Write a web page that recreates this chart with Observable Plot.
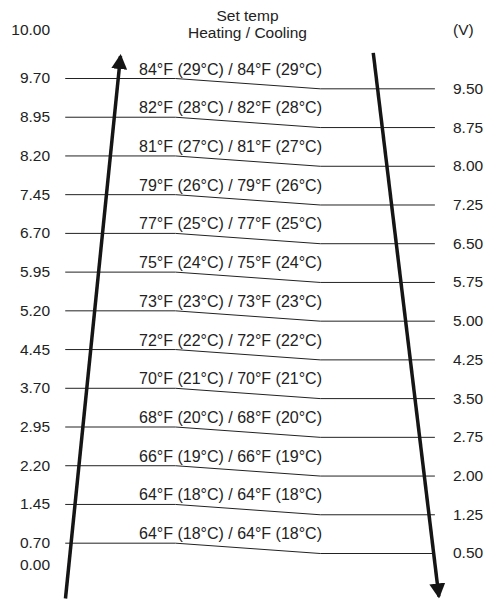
<!DOCTYPE html>
<html>
<head>
<meta charset="utf-8">
<script src="https://cdn.jsdelivr.net/npm/d3@7"></script>
<script src="https://cdn.jsdelivr.net/npm/@observablehq/plot@0.6"></script>
<style>
  html, body { margin: 0; padding: 0; background: #fff; }
  #chart svg { display: block; }
  #dbg { position: absolute; left: 150px; top: 300px; font: 10px monospace; color: red; width: 300px; }
</style>
</head>
<body>
<div id="chart"></div>
<div id="dbg"></div>
<script>
// ---- Data ----
const leftVolts  = [9.70, 8.95, 8.20, 7.45, 6.70, 5.95, 5.20, 4.45, 3.70, 2.95, 2.20, 1.45, 0.70];
const rightVolts = [9.50, 8.75, 8.00, 7.25, 6.50, 5.75, 5.00, 4.25, 3.50, 2.75, 2.00, 1.25, 0.50];
const setTemps = [
  "84°F (29°C) / 84°F (29°C)",
  "82°F (28°C) / 82°F (28°C)",
  "81°F (27°C) / 81°F (27°C)",
  "79°F (26°C) / 79°F (26°C)",
  "77°F (25°C) / 77°F (25°C)",
  "75°F (24°C) / 75°F (24°C)",
  "73°F (23°C) / 73°F (23°C)",
  "72°F (22°C) / 72°F (22°C)",
  "70°F (21°C) / 70°F (21°C)",
  "68°F (20°C) / 68°F (20°C)",
  "66°F (19°C) / 66°F (19°C)",
  "64°F (18°C) / 64°F (18°C)",
  "64°F (18°C) / 64°F (18°C)"
];
const leftTicks  = [10.00, ...leftVolts, 0.00];
const rightTicks = rightVolts;
const titleLines = ["Set temp", "Heating / Cooling"];
const unitLabel = "(V)";
// schematic layout along x (percent of width): start, bend, bend, end
const lineStops = [13.4, 36.0, 65.8, 89.3];
// rising (heating) and falling (cooling) arrows, in volts
const arrows = [
  {x1: 13.37, y1: -1.375, x2: 24.69, y2: 9.84},
  {x1: 76.70, y1: 9.86,  x2: 90.20, y2: -1.29}
];

// ---- Build tables ----
const polyPts = leftVolts.flatMap((l, i) =>
  lineStops.map((x, j) => ({row: i, x, v: j < 2 ? l : rightVolts[i]})));
const labelRows = leftVolts.map((l, i) => ({v: l, text: setTemps[i]}));

const FONT = "'Liberation Sans', Arial, Helvetica, sans-serif";
const INK = "#222";

// the diagram is schematic: volts are laid out piecewise-linearly
const voltLayout = d3.scaleLinear().domain([10, 9.7, 0.5, 0]).range([30, 78, 553, 565]);

function filledArrow(color) {
  const m = d3.create("svg:marker")
    .attr("viewBox", "0 -8 15 16")
    .attr("markerUnits", "userSpaceOnUse")
    .attr("markerWidth", 15)
    .attr("markerHeight", 16)
    .attr("refX", 13)
    .attr("refY", 0)
    .attr("orient", "auto")
    .attr("fill", color)
    .attr("stroke", "none");
  m.append("path").attr("d", "M0,-8L15,0L0,8Z");
  return m.node();
}

function build(marker) {
  return Plot.plot({
    width: 486,
    height: 600,
    marginTop: 0, marginBottom: 0, marginLeft: 0, marginRight: 0,
    style: {fontFamily: FONT, fontSize: "16px", color: INK, background: "#fff"},
    x: {domain: [0, 100], range: [0, 486], axis: null},
    y: {type: "linear", domain: [0, 600], range: [0, 600], transform: voltLayout, axis: null},
    marks: [
      Plot.line(polyPts, {x: "x", y: "v", z: "row", stroke: INK, strokeWidth: 1}),
      Plot.text(labelRows, {x: 28.5, y: "v", text: "text", textAnchor: "start",
        lineAnchor: "bottom", dy: -4, fill: INK, fontSize: 16}),
      Plot.text(leftTicks, {x: 10.2, y: d => d, text: d => d.toFixed(2),
        textAnchor: "end", fill: INK, fontSize: 15.5}),
      Plot.text(rightTicks, {x: 93.1, y: d => d, text: d => d.toFixed(2),
        textAnchor: "start", fill: INK, fontSize: 15.5}),
      Plot.text([unitLabel], {x: 93.1, y: 10, text: d => d,
        textAnchor: "start", fill: INK, fontSize: 15.5}),
      Plot.text([titleLines.join("\n")], {frameAnchor: "top", text: d => d,
        dx: 4, dy: 8, lineHeight: 1.1, fill: INK, fontSize: 15.5}),
      Plot.link(arrows, {x1: "x1", y1: "y1", x2: "x2", y2: "y2",
        stroke: "#151515", strokeWidth: 3.5, markerEnd: marker})
    ]
  });
}

let chart;
try { chart = build(filledArrow); }
catch (e) { document.getElementById("dbg").textContent = String(e); chart = build("arrow"); }
document.getElementById("chart").appendChild(chart);
</script>
</body>
</html>
